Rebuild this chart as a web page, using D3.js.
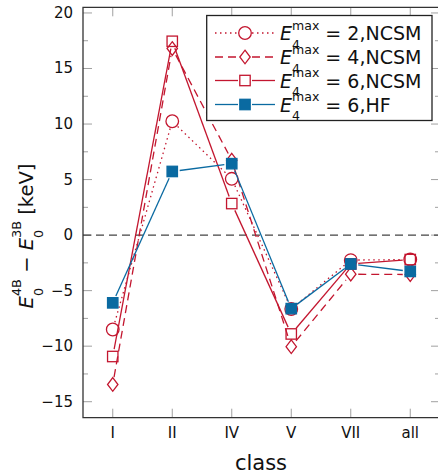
<!DOCTYPE html>
<html><head><meta charset="utf-8">
<script src="https://cdn.jsdelivr.net/npm/d3@7"></script>
<style>body{margin:0;background:#fff}svg{display:block;font-family:"DejaVu Sans",sans-serif}</style>
</head><body><svg id="c" width="438" height="474"></svg>
<script>
const categories = ["I","II","IV","V","VII","all"];
const e2NCSM = [-8.5, 10.25, 5.07, -6.65, -2.25, -2.2];
const e4NCSM = [-13.45, 16.8, 6.75, -10.05, -3.52, -3.55];
const e6NCSM = [-10.93, 17.45, 2.84, -8.9, -2.6, -2.2];
const e6HF   = [-6.1, 5.73, 6.43, -6.62, -2.6, -3.27];
const yTicks = [-15,-10,-5,0,5,10,15,20];
const legendNums = ["2,NCSM","4,NCSM","6,NCSM","6,HF"];

const RED = "#c3162f", BLUE = "#0a6aa1";
const svg = d3.select("#c");
const L = 83, R = 440, T = 7.3, B = 417.7;
const x = d3.scaleLinear().domain([0.5, 6.5]).range([L, R]);
const y = d3.scaleLinear().domain([-16.44, 20.51]).range([B, T]);

// ticks
const tickCol = "#a0a0a0";
const major = yTicks, minor = d3.range(-15, 20, 5).map(v => v + 2.5);
const tg = svg.append("g").attr("stroke", tickCol).attr("stroke-width", 1);
major.forEach(v => {
  tg.append("line").attr("x1", L).attr("x2", L + 9).attr("y1", y(v)).attr("y2", y(v));
  tg.append("line").attr("x1", R).attr("x2", R - 9).attr("y1", y(v)).attr("y2", y(v));
});
minor.forEach(v => {
  tg.append("line").attr("x1", L).attr("x2", L + 5).attr("y1", y(v)).attr("y2", y(v));
  tg.append("line").attr("x1", R).attr("x2", R - 5).attr("y1", y(v)).attr("y2", y(v));
});
categories.forEach((c, i) => {
  tg.append("line").attr("x1", x(i+1)).attr("x2", x(i+1)).attr("y1", B).attr("y2", B - 9);
  tg.append("line").attr("x1", x(i+1)).attr("x2", x(i+1)).attr("y1", T).attr("y2", T + 9);
});

// zero line
svg.append("line").attr("x1", L).attr("x2", R).attr("y1", y(0)).attr("y2", y(0))
  .attr("stroke", "#444").attr("stroke-width", 1.2).attr("stroke-dasharray", "8,5");

// tick labels
svg.append("g").selectAll("text").data(yTicks).join("text")
  .attr("x", 73).attr("y", d => y(d)).attr("text-anchor", "end").attr("dominant-baseline", "central")
  .attr("font-size", 15).attr("fill", "#111").text(d => d < 0 ? "\u2212" + Math.abs(d) : d);
svg.append("g").selectAll("text").data(categories).join("text")
  .attr("x", (d, i) => x(i+1)).attr("y", 433).attr("text-anchor", "middle").attr("dominant-baseline", "central")
  .attr("font-size", 15).attr("fill", "#111").text(d => d);
svg.append("text").attr("x", 261).attr("y", 463).attr("text-anchor", "middle").attr("dominant-baseline", "central")
  .attr("font-size", 21).attr("fill", "#111").text("class");

// rich text helper
function rich(g, parts, fs, supK, subK) {
  let cx = 0;
  parts.forEach(p => {
    if (p.t !== undefined) {
      const t = g.append("text").attr("x", cx).attr("y", 0).attr("font-size", fs).attr("fill", "#111")
        .attr("font-style", p.it ? "italic" : null).style("white-space", "pre").text(p.t);
      cx += t.node().getComputedTextLength();
    } else {
      const sf = fs * 0.66;
      const a = g.append("text").attr("x", cx).attr("y", -fs * supK).attr("font-size", sf).attr("fill", "#111").text(p.sup);
      const b = g.append("text").attr("x", cx).attr("y", fs * subK).attr("font-size", sf).attr("fill", "#111").text(p.sub);
      cx += Math.max(a.node().getComputedTextLength(), b.node().getComputedTextLength());
    }
  });
  return cx;
}

// y label
const yl = svg.append("g");
const yw = rich(yl, [{t:"E", it:true},{sup:"4B", sub:"0"},{t:" \u2212 "},{t:"E", it:true},{sup:"3B", sub:"0"},{t:" [keV]"}], 19.5, 0.6, 0.5);
yl.attr("transform", `translate(33,${236 + yw/2}) rotate(-90)`);

// series
const series = [
  {vals: e2NCSM, color: RED, dash: "1.5,3.5", marker: "circle", fill: "#fff"},
  {vals: e4NCSM, color: RED, dash: "8,5", marker: "diamond", fill: "#fff"},
  {vals: e6NCSM, color: RED, dash: null, marker: "square", fill: "#fff"},
  {vals: e6HF, color: BLUE, dash: null, marker: "square", fill: BLUE}
];
function marker(g, type, cx, cy, s) {
  let el;
  if (type === "circle") el = g.append("circle").attr("cx", cx).attr("cy", cy).attr("r", 6.3);
  else if (type === "square") el = g.append("rect").attr("x", cx - 5.2).attr("y", cy - 5.2).attr("width", 10.4).attr("height", 10.4);
  else el = g.append("path").attr("d", `M${cx},${cy-6.8}L${cx+5.2},${cy}L${cx},${cy+6.8}L${cx-5.2},${cy}Z`);
  el.attr("stroke", s.color).attr("stroke-width", 1.3).attr("fill", s.fill === "#fff" ? "none" : s.fill);
}
const gap = 7.5;
series.forEach(s => {
  const g = svg.append("g");
  const pts = s.vals.map((v, i) => [x(i+1), y(v)]);
  for (let i = 0; i < pts.length - 1; i++) {
    const [x1, y1] = pts[i], [x2, y2] = pts[i+1];
    const len = Math.hypot(x2 - x1, y2 - y1);
    if (len <= 2 * gap) continue;
    const ux = (x2 - x1) / len, uy = (y2 - y1) / len;
    g.append("line").attr("x1", x1 + ux*gap).attr("y1", y1 + uy*gap).attr("x2", x2 - ux*gap).attr("y2", y2 - uy*gap)
      .attr("stroke", s.color).attr("stroke-width", 1.3).attr("stroke-dasharray", s.dash);
  }
  pts.forEach(p => marker(g, s.marker, p[0], p[1], s));
});

// frame
svg.append("path").attr("d", `M${L},${T}H${R}V${B}H${L}Z`).attr("fill", "none").attr("stroke", "#333").attr("stroke-width", 1.3);

// legend
const lg = svg.append("g");
lg.append("rect").attr("x", 206.7).attr("y", 15.5).attr("width", 225.3).attr("height", 105)
  .attr("fill", "#fff").attr("stroke", "#222").attr("stroke-width", 1.3);
const rowY = [33, 57, 80.5, 104.5];
series.forEach((s, i) => {
  const cy = rowY[i];
  [[215, 238],[252, 275]].forEach(([a, b]) => lg.append("line").attr("x1", a).attr("x2", b).attr("y1", cy).attr("y2", cy)
    .attr("stroke", s.color).attr("stroke-width", 1.3).attr("stroke-dasharray", s.dash));
  marker(lg, s.marker, 245, cy, s);
  const tgp = lg.append("g").attr("transform", `translate(280,${cy + 7})`);
  rich(tgp, [{t:"E", it:true},{sup:"max", sub:"4"},{t:" = " + legendNums[i]}], 19, 0.55, 0.45);
});
</script></body></html>
